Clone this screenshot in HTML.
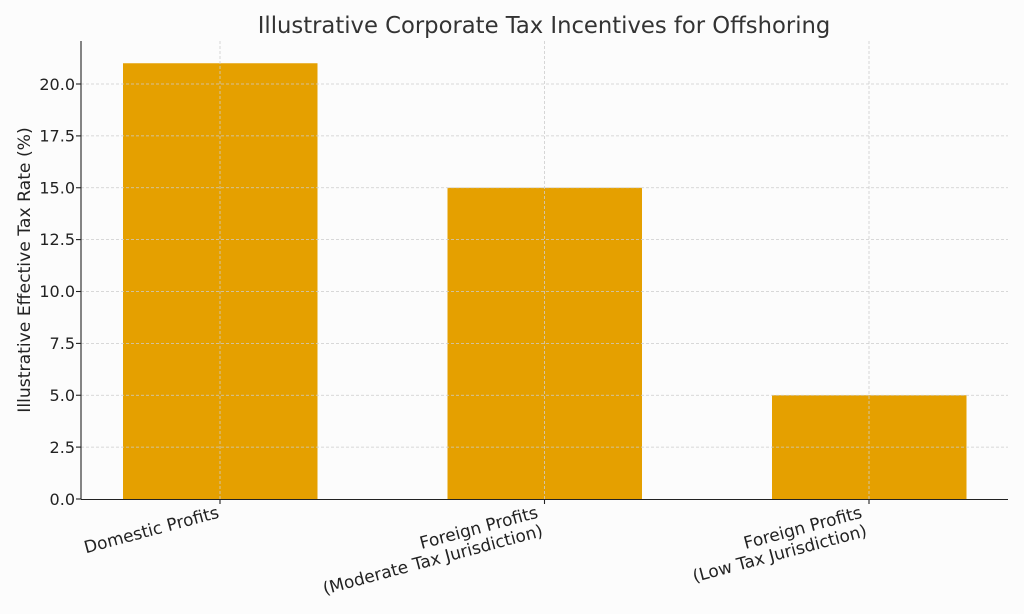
<!DOCTYPE html>
<html><head><meta charset="utf-8"><style>
html,body{margin:0;padding:0;background:#fcfcfc;}
svg{display:block;font-family:"DejaVu Sans","Liberation Sans",sans-serif;}
</style></head><body>
<svg width="1024" height="614" viewBox="0 0 1024 614" xmlns="http://www.w3.org/2000/svg">
<rect width="1024" height="614" fill="#fcfcfc"/>
<g fill="#e5a000">
<rect x="123" y="63.25" width="194.5" height="435.75"/>
<rect x="447.5" y="187.75" width="194.5" height="311.25"/>
<rect x="772" y="395.25" width="194.5" height="103.75"/>
</g>
<g stroke="#cccccc" stroke-width="0.8" stroke-dasharray="3,2" fill="none">
<line x1="81" x2="1008" y1="447.1" y2="447.1"/>
<line x1="81" x2="1008" y1="395.25" y2="395.25"/>
<line x1="81" x2="1008" y1="343.4" y2="343.4"/>
<line x1="81" x2="1008" y1="291.5" y2="291.5"/>
<line x1="81" x2="1008" y1="239.6" y2="239.6"/>
<line x1="81" x2="1008" y1="187.75" y2="187.75"/>
<line x1="81" x2="1008" y1="135.9" y2="135.9"/>
<line x1="81" x2="1008" y1="84" y2="84"/>
<line x1="220" x2="220" y1="41" y2="499"/>
<line x1="544.5" x2="544.5" y1="41" y2="499"/>
<line x1="869" x2="869" y1="41" y2="499"/>
</g>
<g stroke="#222" stroke-width="1.1">
<line x1="81" y1="41" x2="81" y2="499.5"/>
<line x1="81" y1="499.5" x2="1008" y2="499.5"/>
<line x1="76" x2="81" y1="499" y2="499"/><line x1="76" x2="81" y1="447.1" y2="447.1"/>
<line x1="76" x2="81" y1="395.25" y2="395.25"/><line x1="76" x2="81" y1="343.4" y2="343.4"/>
<line x1="76" x2="81" y1="291.5" y2="291.5"/><line x1="76" x2="81" y1="239.6" y2="239.6"/>
<line x1="76" x2="81" y1="187.75" y2="187.75"/><line x1="76" x2="81" y1="135.9" y2="135.9"/>
<line x1="76" x2="81" y1="84" y2="84"/>
<line x1="220" x2="220" y1="499" y2="504"/><line x1="544.5" x2="544.5" y1="499" y2="504"/><line x1="869" x2="869" y1="499" y2="504"/>
</g>
<g font-size="16" fill="#222" text-anchor="end">
<text x="75" y="505">0.0</text><text x="75" y="453">2.5</text><text x="75" y="401">5.0</text>
<text x="75" y="349">7.5</text><text x="75" y="297">10.0</text><text x="75" y="245">12.5</text>
<text x="75" y="193.5">15.0</text><text x="75" y="141.5">17.5</text><text x="75" y="90">20.0</text>
</g>
<text x="544" y="33" font-size="22.7" fill="#333" text-anchor="middle">Illustrative Corporate Tax Incentives for Offshoring</text>
<text transform="translate(30,270) rotate(-90)" font-size="17.2" fill="#222" text-anchor="middle">Illustrative Effective Tax Rate (%)</text>
<g font-size="17" fill="#222" text-anchor="end">
<g transform="translate(216,503) rotate(-15)"><text x="0" y="15">Domestic Profits</text></g>
<g transform="translate(535,503) rotate(-15)"><text x="0" y="15">Foreign Profits</text><text x="0" y="34">(Moderate Tax Jurisdiction)</text></g>
<g transform="translate(859,503) rotate(-15)"><text x="0" y="15">Foreign Profits</text><text x="0" y="34">(Low Tax Jurisdiction)</text></g>
</g>
</svg>
</body></html>
